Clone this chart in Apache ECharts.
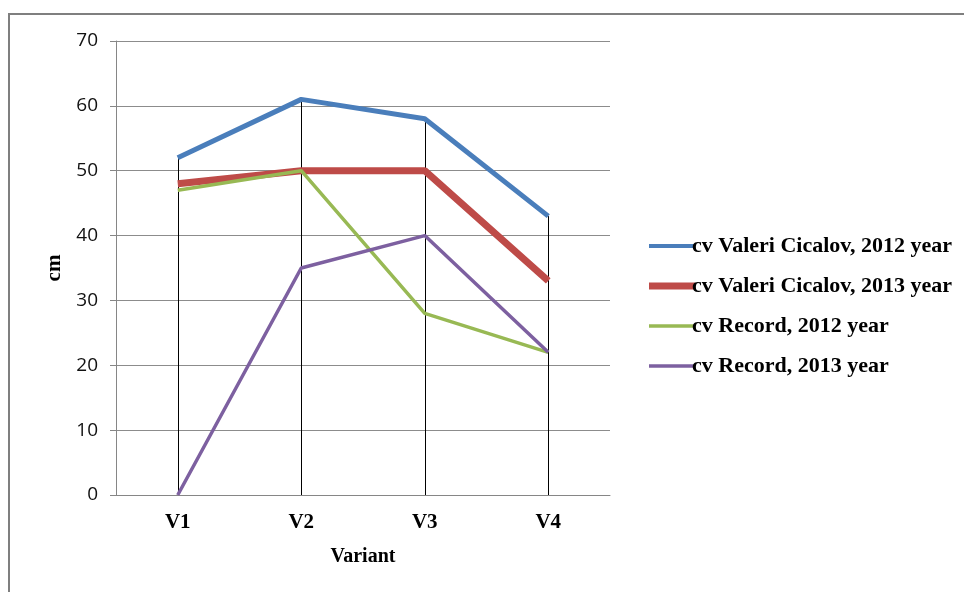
<!DOCTYPE html>
<html>
<head>
<meta charset="utf-8">
<script src="https://cdn.jsdelivr.net/npm/echarts@6/dist/echarts.min.js"></script>
<style>
html,body{margin:0;padding:0;background:#fff;}
#chart{width:964px;height:592px;}
</style>
</head>
<body>
<div id="chart"></div>
<script>
var categories = ['V1', 'V2', 'V3', 'V4'];
var seriesNames = ['cv Valeri Cicalov, 2012 year', 'cv Valeri Cicalov, 2013 year', 'cv Record, 2012 year', 'cv Record, 2013 year'];
var valeri2012 = [52, 61, 58, 43];
var valeri2013 = [48, 50, 50, 33];
var record2012 = [47, 50, 28, 22];
var record2013 = [0, 35, 40, 22];
var yTicks = [0, 10, 20, 30, 40, 50, 60, 70];

var allSeries = [valeri2012, valeri2013, record2012, record2013];
var colors = ['#4a7ebb', '#be4b48', '#98b954', '#7d60a0'];
var widths = [5, 7, 3.5, 3.5];
var legendThick = [4, 7, 3.5, 3.5];

var dropData = categories.map(function (c, i) {
  var mx = Math.max.apply(null, allSeries.map(function (s) { return s[i]; }));
  return [{ coord: [i, mx] }, { coord: [i, 0] }];
});

var chart = echarts.init(document.getElementById('chart'));
var series = allSeries.map(function (d, k) {
  return {
    name: seriesNames[k],
    type: 'line',
    data: d,
    symbol: 'none',
    z: 5 + k,
    lineStyle: { color: colors[k], width: widths[k] },
    itemStyle: { color: colors[k] }
  };
});
series[0].markLine = {
  silent: true,
  symbol: 'none',
  label: { show: false },
  lineStyle: { color: '#000', width: 1, type: 'solid' },
  data: dropData,
  z: 1
};
series.reverse();

var legendData = seriesNames.map(function (n, k) {
  return { name: n, icon: 'path://M0,0h46v' + legendThick[k] + 'h-46z' };
});

chart.setOption({
  animation: false,
  backgroundColor: '#fff',
  graphic: [{
    type: 'rect',
    shape: { x: 9, y: 14, width: 1000, height: 700 },
    style: { fill: 'none', stroke: '#7f7f7f', lineWidth: 2 },
    z: -10
  }],
  grid: { left: 116, right: 354, top: 41, bottom: 97 },
  legend: {
    orient: 'vertical',
    left: 644,
    top: 230,
    itemWidth: 46,
    itemHeight: 14,
    itemGap: 18,
    data: legendData,
    textStyle: { fontFamily: 'Liberation Serif', fontWeight: 'bold', fontSize: 22, color: '#000', padding: [0, 0, 0, -8] }
  },
  xAxis: {
    type: 'category',
    data: categories,
    boundaryGap: true,
    name: 'Variant',
    nameLocation: 'middle',
    nameGap: 52,
    nameTextStyle: { fontFamily: 'Liberation Serif', fontWeight: 'bold', fontSize: 20, color: '#000' },
    axisLine: { lineStyle: { color: '#868686', width: 1 } },
    axisTick: { show: false },
    axisLabel: { fontFamily: 'Liberation Serif', fontWeight: 'bold', fontSize: 21, color: '#000', margin: 17 }
  },
  yAxis: {
    type: 'value',
    min: yTicks[0],
    max: yTicks[yTicks.length - 1],
    interval: 10,
    name: 'cm',
    nameLocation: 'middle',
    nameRotate: 90,
    nameGap: 50,
    nameTextStyle: { fontFamily: 'Liberation Serif', fontWeight: 'bold', fontSize: 21, color: '#000' },
    axisLine: { show: true, lineStyle: { color: '#868686', width: 1 } },
    axisTick: { show: true, length: 6, lineStyle: { color: '#868686' } },
    axisLabel: { fontFamily: 'Open Sans', fontSize: 19, color: '#111', margin: 18 },
    splitLine: { lineStyle: { color: '#8c8c8c', width: 1 } }
  },
  series: series
});
</script>
</body>
</html>
